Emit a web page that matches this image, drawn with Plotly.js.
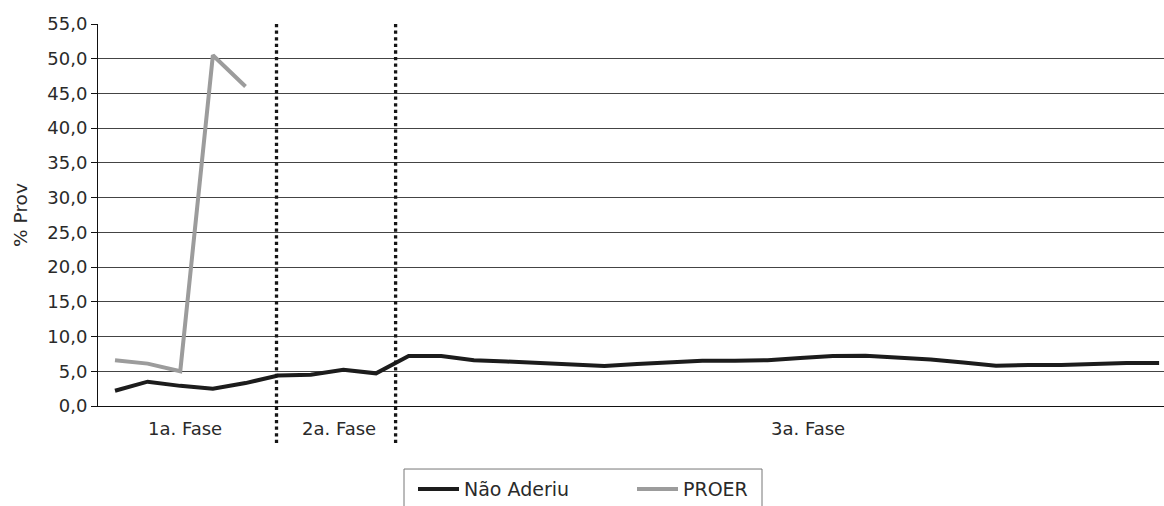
<!DOCTYPE html>
<html>
<head>
<meta charset="utf-8">
<script src="https://cdn.plot.ly/plotly-3.0.1.min.js"></script>
<style>html,body{margin:0;padding:0;background:#fff}#chart{width:1164px;height:506px}</style>
</head>
<body>
<div id="chart"></div>
<script>
// Data
const periods = Array.from({length: 33}, (_, i) => i);
const naoAderiu = [2.2, 3.5, 2.9, 2.5, 3.3, 4.4, 4.5, 5.2, 4.7, 7.2, 7.2, 6.6, 6.4, 6.15, 5.9, 5.75, 6.05, 6.3, 6.5, 6.5, 6.6, 6.9, 7.2, 7.25, 7.0, 6.7, 6.25, 5.8, 5.9, 5.9, 6.05, 6.2, 6.2];
const proerPeriods = [0, 1, 2, 3, 4];
const proer = [6.6, 6.1, 5.0, 50.5, 46.0];
const phaseLabels = ["1a. Fase", "2a. Fase", "3a. Fase"];
const phaseCenters = [2.15, 6.87, 21.24];
const phaseDividers = [4.95, 8.6];
const seriesNames = ["Não Aderiu", "PROER"];

const FONT = "DejaVu Sans";
const TXT = "#2a2a2a";

const traces = [
  {x: periods, y: naoAderiu, name: seriesNames[0], type: "scatter", mode: "lines",
   line: {color: "#1c1c1c", width: 4}},
  {x: proerPeriods, y: proer, name: seriesNames[1], type: "scatter", mode: "lines",
   line: {color: "#9c9c9c", width: 4}}
];

const shapes = phaseDividers.map(d => ({
  type: "line", xref: "x", yref: "paper", x0: d, x1: d, y0: -0.097, y1: 1,
  line: {color: "#151515", width: 3.3, dash: "dot"}
}));
// legend frame (cut by the bottom edge, as in the reference)
shapes.push({type: "rect", xref: "paper", yref: "paper",
  x0: (404 - 98) / 1066, x1: (762 - 98) / 1066, y0: -0.165, y1: -0.4,
  line: {color: "#777", width: 1}, fillcolor: "rgba(0,0,0,0)"});

const annotations = phaseLabels.map((t, i) => ({
  text: t, xref: "x", yref: "paper", x: phaseCenters[i], y: -0.0576,
  xanchor: "center", yanchor: "middle", showarrow: false,
  font: {family: FONT, size: 18, color: TXT}
}));

const layout = {
  width: 1164, height: 506,
  margin: {l: 98, r: 0, t: 24, b: 100, autoexpand: false},
  paper_bgcolor: "#fff", plot_bgcolor: "#fff",
  separators: ",.",
  font: {family: FONT, size: 18, color: TXT},
  xaxis: {range: [-0.521, 32.15], showticklabels: false, showgrid: false, zeroline: false,
          showline: true, linecolor: "#111", linewidth: 1, ticks: ""},
  yaxis: {range: [0, 55], dtick: 5, tick0: 0, tickformat: ".1f", showgrid: true,
          gridcolor: "#444", gridwidth: 1, zeroline: false, showline: true,
          linecolor: "#111", linewidth: 1, ticks: "outside", ticklen: 6, tickcolor: "#111",
          tickfont: {family: FONT, size: 18, color: TXT},
          title: {text: "% Prov", standoff: 14, font: {family: FONT, size: 18.5, color: TXT}}},
  showlegend: true,
  legend: {orientation: "h", x: (413 - 98) / 1066, xanchor: "left", y: -0.168, yanchor: "top",
           borderwidth: 0, bgcolor: "rgba(0,0,0,0)", itemwidth: 41,
           entrywidth: 163, entrywidthmode: "pixels",
           font: {family: FONT, size: 19, color: TXT}},
  shapes: shapes,
  annotations: annotations
};

Plotly.newPlot("chart", traces, layout, {displayModeBar: false, staticPlot: true});
</script>
</body>
</html>
